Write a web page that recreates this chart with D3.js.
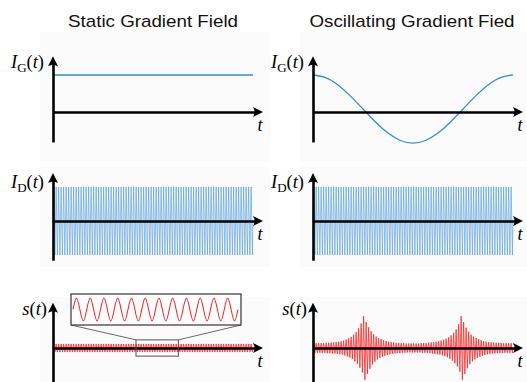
<!DOCTYPE html>
<html>
<head>
<meta charset="utf-8">
<script src="https://cdn.jsdelivr.net/npm/d3@7"></script>
<style>
  body { margin: 0; background: #fff; }
  svg { display: block; }
</style>
</head>
<body>
<svg id="chart" width="527" height="382"></svg>
<script>
// ---- values ----
const columnTitles = ["Static Gradient Field", "Oscillating Gradient Fied"];
const rowSymbols = ["I", "I", "s"];
const rowSubscripts = ["G", "D", ""];
const axisLetter = "t";

// row 1: gradient current
const staticGradientT = [0, 1];
const staticGradientV = [1.0, 1.0];
const oscGradientT = [0, 0.0625, 0.125, 0.1875, 0.25, 0.3125, 0.375, 0.4375, 0.5,
                      0.5625, 0.625, 0.6875, 0.75, 0.8125, 0.875, 0.9375, 1];
const oscGradientV = [1.00, 0.93, 0.73, 0.43, 0.08, -0.27, -0.57, -0.77, -0.84,
                      -0.77, -0.57, -0.27, 0.08, 0.43, 0.73, 0.93, 1.00];

// rows 2-3: fast carrier, amplitude per carrier period
const carrierCycles = 80;
const detectorAmplitude = 0.92;
const staticSignalAmplitude = 0.11;
const oscSignalEnvelope = [
  0.13, 0.13, 0.13, 0.13, 0.13, 0.14, 0.14, 0.15, 0.15, 0.16,
  0.17, 0.18, 0.20, 0.23, 0.26, 0.30, 0.36, 0.43, 0.53, 0.66,
  0.86, 0.70, 0.56, 0.45, 0.37, 0.31, 0.27, 0.24, 0.21, 0.19,
  0.17, 0.16, 0.15, 0.14, 0.14, 0.13, 0.13, 0.12, 0.12, 0.12,
  0.12, 0.12, 0.12, 0.13, 0.13, 0.13, 0.14, 0.15, 0.16, 0.17,
  0.18, 0.20, 0.22, 0.25, 0.29, 0.34, 0.41, 0.50, 0.64, 0.86,
  0.70, 0.55, 0.44, 0.36, 0.31, 0.27, 0.24, 0.21, 0.19, 0.17,
  0.16, 0.15, 0.15, 0.14, 0.14, 0.14, 0.13, 0.13, 0.13, 0.13
];

// zoomed inset of the static signal
const insetWindowT = [0.415, 0.627];
const insetWindowV = [-0.22, 0.22];
const insetCycles = 12;

// ---- layout ----
const colX = [53, 313];          // y-axis position of each column
const rowAxisY = [112, 221, 348]; // x-axis position of each row
const rowAxisSpan = [[-0.81, 1.51], [-1.06, 1.3], [-1.0, 1.22]];
const unitPx = 37;
const blue = "#3a8bd0", red = "#ff2424";

const svg = d3.select("#chart");

// faint panel backgrounds
const panels = [[32, 162], [167, 267], [297, 382]];
colX.forEach(cx => {
  panels.forEach(p => {
    svg.append("rect").attr("x", cx - 13).attr("y", p[0])
      .attr("width", 230).attr("height", p[1] - p[0]).attr("fill", "#fbfbfb");
  });
});

// titles
svg.selectAll(".title").data(columnTitles).enter().append("text")
  .attr("class", "title")
  .attr("x", (d, i) => colX[i] + [100, 99][i])
  .attr("y", 27)
  .attr("text-anchor", "middle")
  .attr("font-family", "Liberation Sans, Arial, sans-serif")
  .attr("font-size", 17)
  .attr("textLength", (d, i) => [170, 205][i])
  .attr("lengthAdjust", "spacingAndGlyphs")
  .attr("fill", "#111")
  .text(d => d);

function carrier(env) {
  const n = env.length;
  const pts = [[0, 0]];
  env.forEach((a, k) => {
    pts.push([(k + 0.25) / n, a]);
    pts.push([(k + 0.75) / n, -a]);
  });
  pts.push([1, 0]);
  return pts;
}

function arrowRight(g, x, y) {
  g.append("path").attr("d", `M${x},${y} L${x - 10},${y - 5} Q${x - 7},${y} ${x - 10},${y + 5} Z`).attr("fill", "#000");
}
function arrowUp(g, x, y) {
  g.append("path").attr("d", `M${x},${y} L${x - 5},${y + 10} Q${x},${y + 7} ${x + 5},${y + 10} Z`).attr("fill", "#000");
}

const panelsByKey = {};

for (let c = 0; c < 2; c++) {
  for (let r = 0; r < 3; r++) {
    const g = svg.append("g");
    const x = d3.scaleLinear().domain([0, 1.05]).range([colX[c], colX[c] + 210]);
    const y = d3.scaleLinear().domain([-1, 1]).range([rowAxisY[r] + unitPx, rowAxisY[r] - unitPx]);
    const line = d3.line().x(d => x(d[0])).y(d => y(d[1]));
    const series = g.append("g");

    if (r === 0) {
      const T = c === 0 ? staticGradientT : oscGradientT;
      const V = c === 0 ? staticGradientV : oscGradientV;
      series.append("path")
        .datum(d3.zip(T, V))
        .attr("d", line.curve(d3.curveNatural))
        .attr("fill", "none").attr("stroke", blue).attr("stroke-width", 1.3);
    } else if (r === 1) {
      series.append("path")
        .datum(carrier(Array(carrierCycles).fill(detectorAmplitude)))
        .attr("d", line)
        .attr("fill", "none").attr("stroke", "#4b98d8").attr("stroke-width", 0.6);
    } else {
      const env = c === 0 ? Array(carrierCycles).fill(staticSignalAmplitude) : oscSignalEnvelope;
      series.append("path")
        .datum(carrier(env))
        .attr("d", line)
        .attr("fill", "none").attr("stroke", red).attr("stroke-width", 0.8);
    }

    // axes without ticks
    const xAx = d3.axisBottom(x.copy().domain([0, 1.0]).range([colX[c], colX[c] + 204])).tickValues([]).tickSizeOuter(0);
    const yScaleAx = y.copy().domain(rowAxisSpan[r]).range([y(rowAxisSpan[r][0]), y(rowAxisSpan[r][1]) + 6]);
    const yAx = d3.axisLeft(yScaleAx).tickValues([]).tickSizeOuter(0);
    g.append("g").attr("transform", `translate(0,${rowAxisY[r]})`).call(xAx)
      .select(".domain").attr("stroke", "#000").attr("stroke-width", 2.6);
    g.append("g").attr("transform", `translate(${colX[c]},0)`).call(yAx)
      .select(".domain").attr("stroke", "#000").attr("stroke-width", 2.6);
    arrowRight(g, colX[c] + 210, rowAxisY[r]);
    arrowUp(g, colX[c], y(rowAxisSpan[r][1]));

    // axis letter
    g.append("text")
      .attr("x", colX[c] + 207).attr("y", rowAxisY[r] + 19)
      .attr("text-anchor", "middle")
      .attr("font-family", "Liberation Serif, Times New Roman, serif")
      .attr("font-style", "italic").attr("font-size", 18)
      .text(axisLetter);

    // row label like I_G(t)
    const lab = g.append("text")
      .attr("x", colX[c] - (r === 2 ? 6 : 9))
      .attr("y", [68, 188, 315][r])
      .attr("text-anchor", "end")
      .attr("font-family", "Liberation Serif, Times New Roman, serif")
      .attr("font-size", 18.5);
    lab.append("tspan").attr("font-style", "italic").text(rowSymbols[r]);
    if (rowSubscripts[r]) {
      lab.append("tspan").attr("font-size", 13).attr("dy", 4).text(rowSubscripts[r]);
      lab.append("tspan").attr("dy", -4).text("(");
    } else {
      lab.append("tspan").text("(");
    }
    lab.append("tspan").attr("font-style", "italic").text(axisLetter);
    lab.append("tspan").text(")");

    panelsByKey[`${c}-${r}`] = { g, x, y };
  }
}

// inset zoom of the static signal
{
  const { g, x, y } = panelsByKey["0-2"];
  const bx0 = x(insetWindowT[0]), bx1 = x(insetWindowT[1]);
  const by0 = y(insetWindowV[1]), by1 = y(insetWindowV[0]);
  const inset = { x0: 71, x1: 241, y0: 294, y1: 325 };

  g.append("rect").attr("x", bx0).attr("y", by0)
    .attr("width", bx1 - bx0).attr("height", by1 - by0)
    .attr("fill", "none").attr("stroke", "#555").attr("stroke-width", 1);
  g.append("line").attr("x1", inset.x0).attr("y1", inset.y1).attr("x2", bx0).attr("y2", by0)
    .attr("stroke", "#444").attr("stroke-width", 0.8);
  g.append("line").attr("x1", inset.x1).attr("y1", inset.y1).attr("x2", bx1).attr("y2", by0)
    .attr("stroke", "#444").attr("stroke-width", 0.8);
  g.append("rect").attr("x", inset.x0).attr("y", inset.y0)
    .attr("width", inset.x1 - inset.x0).attr("height", inset.y1 - inset.y0)
    .attr("fill", "#fff").attr("stroke", "#333").attr("stroke-width", 1.2);

  const ix = d3.scaleLinear().domain([0, insetCycles]).range([inset.x0 + 2, inset.x1 - 3]);
  const iy = d3.scaleLinear().domain([-1, 1]).range([inset.y1 - 4, inset.y0 + 4]);
  const pts = d3.range(insetCycles * 4 + 1).map(q => [q / 4, [0, 1, 0, -1][q % 4]]);
  g.append("path").datum(pts)
    .attr("d", d3.line().x(d => ix(d[0])).y(d => iy(d[1])).curve(d3.curveNatural))
    .attr("fill", "none").attr("stroke", red).attr("stroke-width", 1.1);
}
</script>
</body>
</html>
